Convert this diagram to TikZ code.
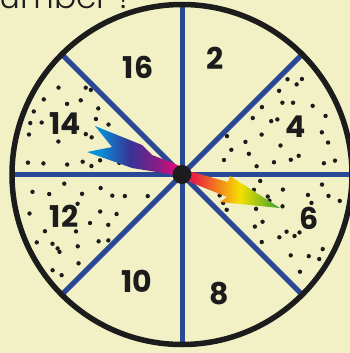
\documentclass[tikz,border=0pt]{standalone}
\usepackage{fontspec}
\setmainfont{Poppins}
\newfontfamily\titlefont{Poppins Light}
\definecolor{bg}{RGB}{242,241,198}
\definecolor{spoke}{RGB}{42,72,150}
\definecolor{rim}{RGB}{28,28,28}
\pgfdeclarehorizontalshading{spinshade}{100bp}{%
rgb(0bp)=(0,0.59,0.86);
rgb(25bp)=(0,0.59,0.86);
rgb(28.4bp)=(0.04,0.55,0.84);
rgb(36.1bp)=(0.22,0.2,0.59);
rgb(42.6bp)=(0.51,0.12,0.53);
rgb(48.6bp)=(0.9,0.04,0.47);
rgb(53bp)=(0.92,0.14,0.24);
rgb(59.5bp)=(0.95,0.55,0.1);
rgb(64.6bp)=(0.96,0.88,0);
rgb(75bp)=(0.2,0.63,0.2);
rgb(100bp)=(0.2,0.63,0.2)}
\begin{document}
\begin{tikzpicture}[x=1pt,y=-1pt,
  num/.style={font=\fontsize{30}{30}\selectfont\bfseries,text=rim,inner sep=0pt},
  spokeline/.style={draw=spoke,line width=5pt},
  rimline/.style={draw=rim,line width=5.5pt},
  dotc/.style={fill=rim}]
\useasboundingbox[fill=bg] (0,0) rectangle (350,353);
\coordinate (c) at (182,174.5);
% dots on a jittered grid, kept only in the four dotted sectors
\pgfmathsetseed{2024}
\foreach \gx in {0,...,20}{
  \foreach \gy in {0,...,20}{
    \pgfmathsetmacro{\dx}{\gx*17-170+16*(rnd-0.5)}
    \pgfmathsetmacro{\dy}{\gy*17-170.5+16*(rnd-0.5)}
    \pgfmathparse{and(and(abs(\dx)-abs(\dy)>6.5,abs(\dy)>5),
      and(veclen(\dx,\dy)<162,
      and(and(veclen((\dx+117)*0.7,\dy+50.5)>15,veclen((\dx+118)*0.7,\dy-41.5)>15),
          and(veclen((\dx-114)*0.7,\dy+47.5)>13,veclen((\dx-127)*0.7,\dy-43.5)>13))))}
    \ifdim\pgfmathresult pt>0.5pt
      \fill[dotc] (c) ++(\dx,\dy) circle[radius=2.2pt];
    \fi
  }
}
% spokes
\foreach \a in {0,45,...,315}{
  \draw[spokeline] (c) -- ++(\a:170);
}
% rim
\draw[rimline] (c) circle[radius=170];
% labels
\node[num] (n16) at (138,67) {16};
\node[num] (n2) at (215,58) {2};
\node[num] (n14) at (65,124) {14};
\node[num] (n4) at (296,127) {4};
\node[num] (n12) at (64,216) {12};
\node[num] (n6) at (309,218) {6};
\node[num] (n10) at (137,281) {10};
\node[num] (n8) at (219,294) {8};
\node[font=\titlefont\fontsize{33}{33}\selectfont,text=rim,inner sep=0pt,anchor=base east] (title) at (135,9) {number ?};
% pointer
\shade[shading=spinshade] (95,126) -- (142,145) -- (152,155) -- (173,163) -- (192,172) -- (228,182) -- (230,176) -- (280,208) -- (220,202) -- (227,197) -- (190,182) -- (175,175) -- (132,168) -- (87,152) -- (112,147) -- cycle;
% hub
\fill[rim] (c) circle[radius=9.5];
\end{tikzpicture}
\end{document}
